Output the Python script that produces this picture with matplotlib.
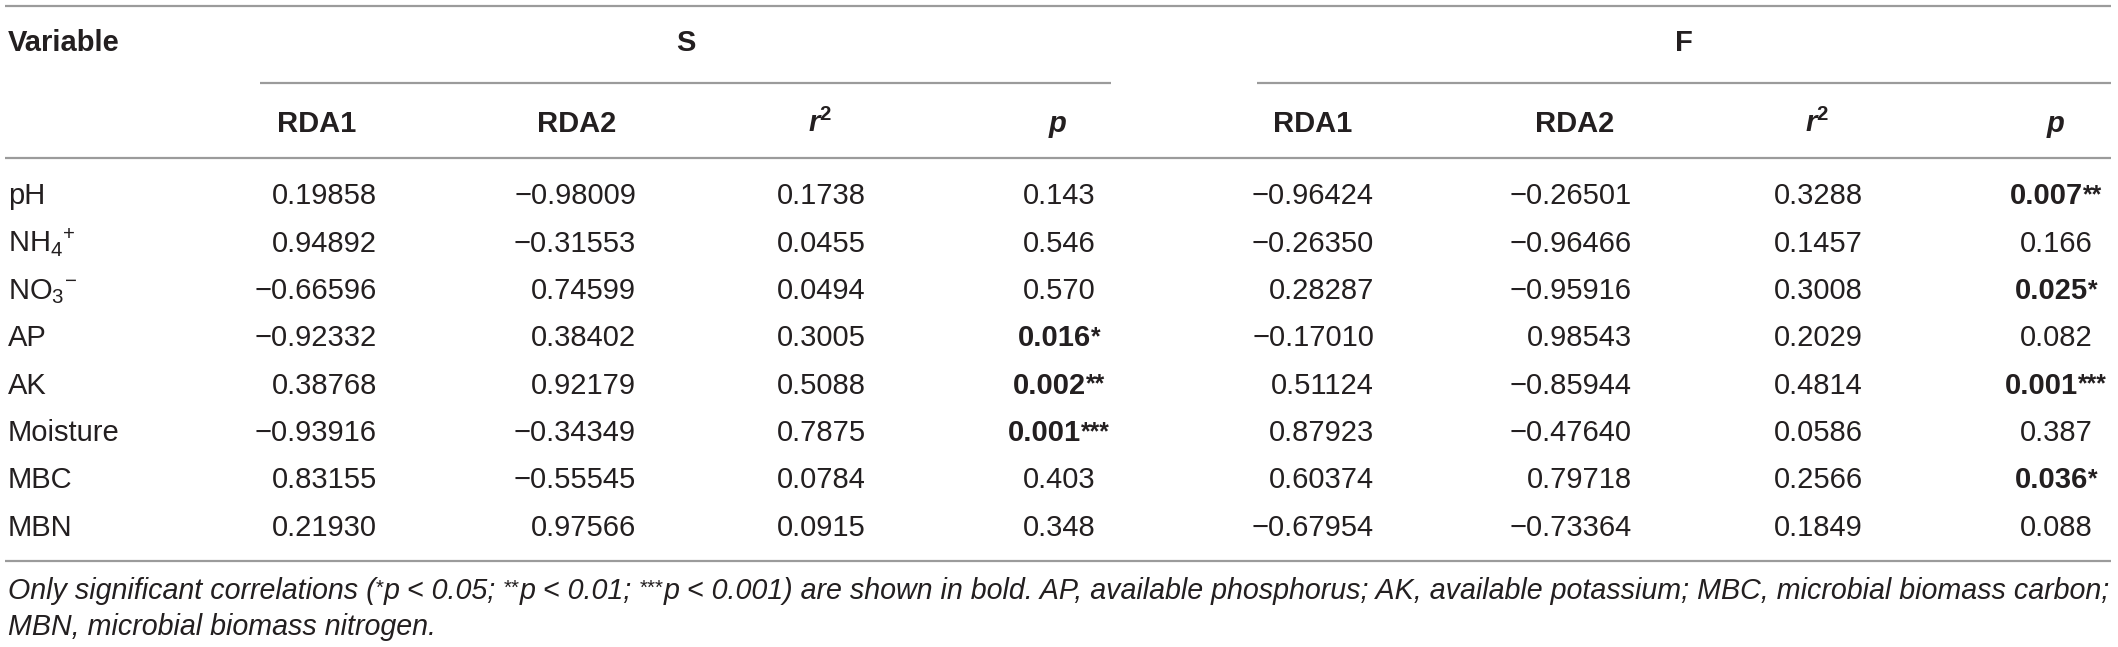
import matplotlib
matplotlib.use("Agg")
import matplotlib.pyplot as plt
from matplotlib.font_manager import FontProperties

plt.rcParams['font.family'] = ['Liberation Sans', 'DejaVu Sans']
plt.rcParams['mathtext.fontset'] = 'custom'
plt.rcParams['mathtext.rm'] = 'Liberation Sans'
plt.rcParams['mathtext.it'] = 'Liberation Sans:italic'
plt.rcParams['mathtext.bf'] = 'Liberation Sans:bold'
try:
    plt.rcParams['mathtext.bfit'] = 'Liberation Sans:italic:bold'
except KeyError:
    pass

# ---------------- data ----------------
variables = ['pH', 'NH$_{4}$$^{+}$', 'NO$_{3}$$^{-}$', 'AP', 'AK', 'Moisture', 'MBC', 'MBN']
groups = ['S', 'F']
col_headers = ['RDA1', 'RDA2', r'$\mathbfit{r}^{\mathbf{2}}$', 'p']

S_RDA1 = [0.19858, 0.94892, -0.66596, -0.92332, 0.38768, -0.93916, 0.83155, 0.21930]
S_RDA2 = [-0.98009, -0.31553, 0.74599, 0.38402, 0.92179, -0.34349, -0.55545, 0.97566]
S_r2 = [0.1738, 0.0455, 0.0494, 0.3005, 0.5088, 0.7875, 0.0784, 0.0915]
S_p = [0.143, 0.546, 0.570, 0.016, 0.002, 0.001, 0.403, 0.348]
S_sig = ['', '', '', '*', '**', '***', '', '']

F_RDA1 = [-0.96424, -0.26350, 0.28287, -0.17010, 0.51124, 0.87923, 0.60374, -0.67954]
F_RDA2 = [-0.26501, -0.96466, -0.95916, 0.98543, -0.85944, -0.47640, 0.79718, -0.73364]
F_r2 = [0.3288, 0.1457, 0.3008, 0.2029, 0.4814, 0.0586, 0.2566, 0.1849]
F_p = [0.007, 0.166, 0.025, 0.082, 0.001, 0.387, 0.036, 0.088]
F_sig = ['**', '', '*', '', '***', '', '*', '']

# footnote pieces: (text, is_superscript)
footnote_1 = [('Only significant correlations (', False), ('*', True), ('p < 0.05; ', False),
              ('**', True), ('p < 0.01; ', False), ('***', True),
              ('p < 0.001) are shown in bold. AP, available phosphorus; AK, available potassium; '
               'MBC, microbial biomass carbon;', False)]
footnote_2 = [('MBN, microbial biomass nitrogen.', False)]

# ---------------- layout ----------------
W, H = 2118, 647
fig = plt.figure(figsize=(W / 100, H / 100), dpi=100)
ax = fig.add_axes([0, 0, 1, 1])
ax.set_xlim(0, W)
ax.set_ylim(H, 0)
ax.axis('off')
renderer = fig.canvas.get_renderer()

TXT = '#231f20'
LINE = '#9b9b9b'
FS = 21
LW = 1.6
X0, X1 = 5, 2111
PX = 100 / 72  # px per point

def hline(y, xa, xb):
    ax.plot([xa, xb], [y, y], color=LINE, lw=LW, solid_capstyle='butt')

hline(6, X0, X1)
hline(83, 260, 1111)
hline(83, 1257, X1)
hline(158, X0, X1)
hline(561, X0, X1)

def half_cap(fs):
    return fs * PX * 0.716 / 2

def put(x, yc, s, ha, fs=FS, **kw):
    return ax.text(x, yc + half_cap(fs), s, ha=ha, va='baseline', fontsize=fs, color=TXT, **kw)

def measure(s, fs, weight='normal', style='normal'):
    fp = FontProperties(family=['Liberation Sans'], size=fs, weight=weight, style=style)
    w1 = renderer.get_text_width_height_descent('|' + s + '|', fp, ismath=False)[0]
    w0 = renderer.get_text_width_height_descent('||', fp, ismath=False)[0]
    return w1 - w0

def rich(x, yc, pieces, ha, fs, weight='normal', style='normal',
         sup_scale=0.62, sup_raise=0.30, sup_style='normal'):
    """pieces: list of (text, is_sup); draws them left to right on one baseline."""
    yb = yc + half_cap(fs)
    widths = []
    for s, sup in pieces:
        f = fs * sup_scale if sup else fs
        widths.append(measure(s, f, weight, sup_style if sup else style))
    total = sum(widths)
    if ha == 'center':
        cx = x - total / 2
    elif ha == 'right':
        cx = x - total
    else:
        cx = x
    for (s, sup), w in zip(pieces, widths):
        f = fs * sup_scale if sup else fs
        dy = fs * PX * sup_raise if sup else 0
        ax.text(cx, yb - dy, s, ha='left', va='baseline', fontsize=f, color=TXT,
                fontweight=weight, fontstyle=(sup_style if sup else style))
        cx += w
    return total

# header row 1
put(8, 41, 'Variable', 'left', fontweight='bold')
put((260 + 1111) / 2, 41, groups[0], 'center', fontweight='bold')
put((1257 + X1) / 2, 41, groups[1], 'center', fontweight='bold')

# column geometry: (anchor x, ha, header center)
S_cols = [(377, 'right', 317), (636, 'right', 577), (821, 'center', 820), (1059, 'center', 1058)]
F_cols = [(1374, 'right', 1313), (1632, 'right', 1575), (1818, 'center', 1817), (2056, 'center', 2056)]

for cols in (S_cols, F_cols):
    for (xa, ha, hc), h in zip(cols, col_headers):
        if h == 'p':
            put(hc, 122, 'p', 'center', fontweight='bold', fontstyle='italic')
        else:
            put(hc, 122, h, 'center', fontweight='bold')

row_y0, row_dy = 194, 47.3

def fmt_rda(v):
    s = f'{abs(v):.5f}'
    return ('\u2212' + s) if v < 0 else s

for i, lab in enumerate(variables):
    yc = row_y0 + i * row_dy
    put(8, yc, lab, 'left')
    for cols, r1, r2, rr, pp, sg in ((S_cols, S_RDA1, S_RDA2, S_r2, S_p, S_sig),
                                     (F_cols, F_RDA1, F_RDA2, F_r2, F_p, F_sig)):
        put(cols[0][0], yc, fmt_rda(r1[i]), cols[0][1])
        put(cols[1][0], yc, fmt_rda(r2[i]), cols[1][1])
        put(cols[2][0], yc, f'{rr[i]:.4f}', cols[2][1])
        if sg[i]:
            rich(cols[3][0], yc, [(f'{pp[i]:.3f}', False), (sg[i], True)], 'center', FS,
                 weight='bold', sup_scale=0.85, sup_raise=0.07)
        else:
            put(cols[3][0], yc, f'{pp[i]:.3f}', cols[3][1])

# footnote, font size fitted so that line 1 spans the table width
def pieces_width(pieces, fs, sc):
    return sum(measure(s, fs * sc if sup else fs, 'normal', 'normal' if sup else 'italic')
               for s, sup in pieces)

FN_SC = 0.72
fn_fs = 19.0
fn_fs = fn_fs * (X1 - 8) / pieces_width(footnote_1, fn_fs, FN_SC)
rich(8, 589, footnote_1, 'left', fn_fs, style='italic', sup_scale=FN_SC, sup_raise=0.18)
rich(8, 625, footnote_2, 'left', fn_fs, style='italic')

fig.savefig('out.png', dpi=100)
